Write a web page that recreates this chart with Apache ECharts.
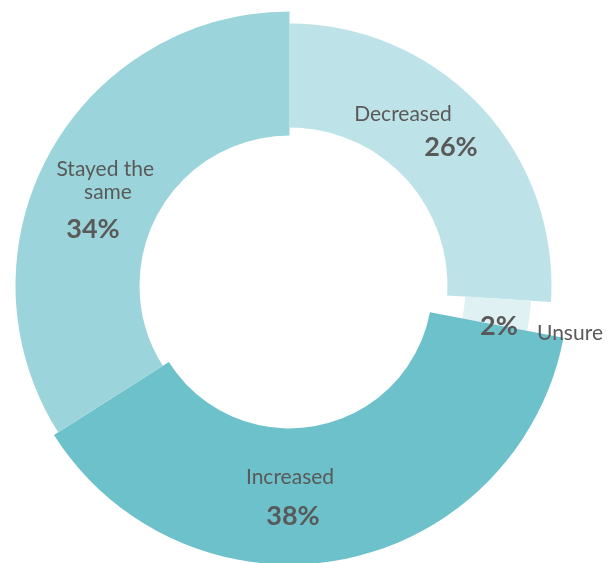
<!DOCTYPE html>
<html><head><meta charset="utf-8">
<script src="https://cdn.jsdelivr.net/npm/echarts@6/dist/echarts.min.js"></script>
<style>html,body{margin:0;padding:0;background:#fff}#c{width:614px;height:563px}</style>
</head><body><div id="c"></div>
<script>
// ---- data ----
const categories = ['Decreased', 'Unsure', 'Increased', 'Stayed the same'];
const values = [26, 2, 38, 34];
const pctLabels = values.map(v => v + '%');

// ---- style ----
const colors = ['#BDE3E8', '#DFF1F2', '#6DC1CB', '#9BD5DB'];
const rings = [[158, 262], [176, 242], [143, 279], [150, 274]]; // [inner, outer] radius per slice
const CENTER = [289.5, 285.5];
const namePos = [[403, 114], [570, 333], [290, 477], [108, 181]];
const pctPos = [[451, 147], [499, 326], [293, 516], [93, 229]];
const TXT = '#595959';
const FONT = 'Lato';

const chart = echarts.init(document.getElementById('c'), null, {renderer: 'canvas'});

function baseData(visibleIndex) {
  return categories.map((c, j) => ({
    name: c,
    value: values[j],
    itemStyle: {color: (visibleIndex === j) ? colors[j] : 'rgba(0,0,0,0)'}
  }));
}

const series = [];
categories.forEach((c, i) => {
  series.push({
    type: 'pie',
    center: CENTER,
    radius: rings[i],
    startAngle: 90,
    clockwise: true,
    silent: true,
    avoidLabelOverlap: false,
    label: {show: false},
    labelLine: {show: false},
    emphasis: {disabled: true},
    data: baseData(i)
  });
});

// category name labels
series.push({
  type: 'pie',
  center: CENTER,
  radius: [150, 260],
  startAngle: 90,
  silent: true,
  avoidLabelOverlap: false,
  z: 5,
  data: baseData(-1),
  labelLine: {show: false},
  emphasis: {disabled: true},
  label: {
    show: true,
    position: 'inside',
    formatter: '{b}',
    color: TXT,
    fontFamily: FONT,
    fontSize: 21,
    lineHeight: 23,
    width: 116,
    overflow: 'break',
    align: 'center'
  },
  labelLayout: p => ({x: namePos[p.dataIndex][0], y: namePos[p.dataIndex][1], align: 'center', verticalAlign: 'middle'})
});

// percentage labels
series.push({
  type: 'pie',
  center: CENTER,
  radius: [150, 260],
  startAngle: 90,
  silent: true,
  avoidLabelOverlap: false,
  z: 5,
  data: baseData(-1),
  labelLine: {show: false},
  emphasis: {disabled: true},
  label: {
    show: true,
    position: 'inside',
    formatter: p => pctLabels[p.dataIndex],
    color: TXT,
    fontFamily: FONT,
    fontWeight: 'bold',
    fontSize: 27
  },
  labelLayout: p => ({x: pctPos[p.dataIndex][0], y: pctPos[p.dataIndex][1], align: 'center', verticalAlign: 'middle'})
});

chart.setOption({
  animation: false,
  backgroundColor: '#ffffff',
  series: series
});
</script>
</body></html>
